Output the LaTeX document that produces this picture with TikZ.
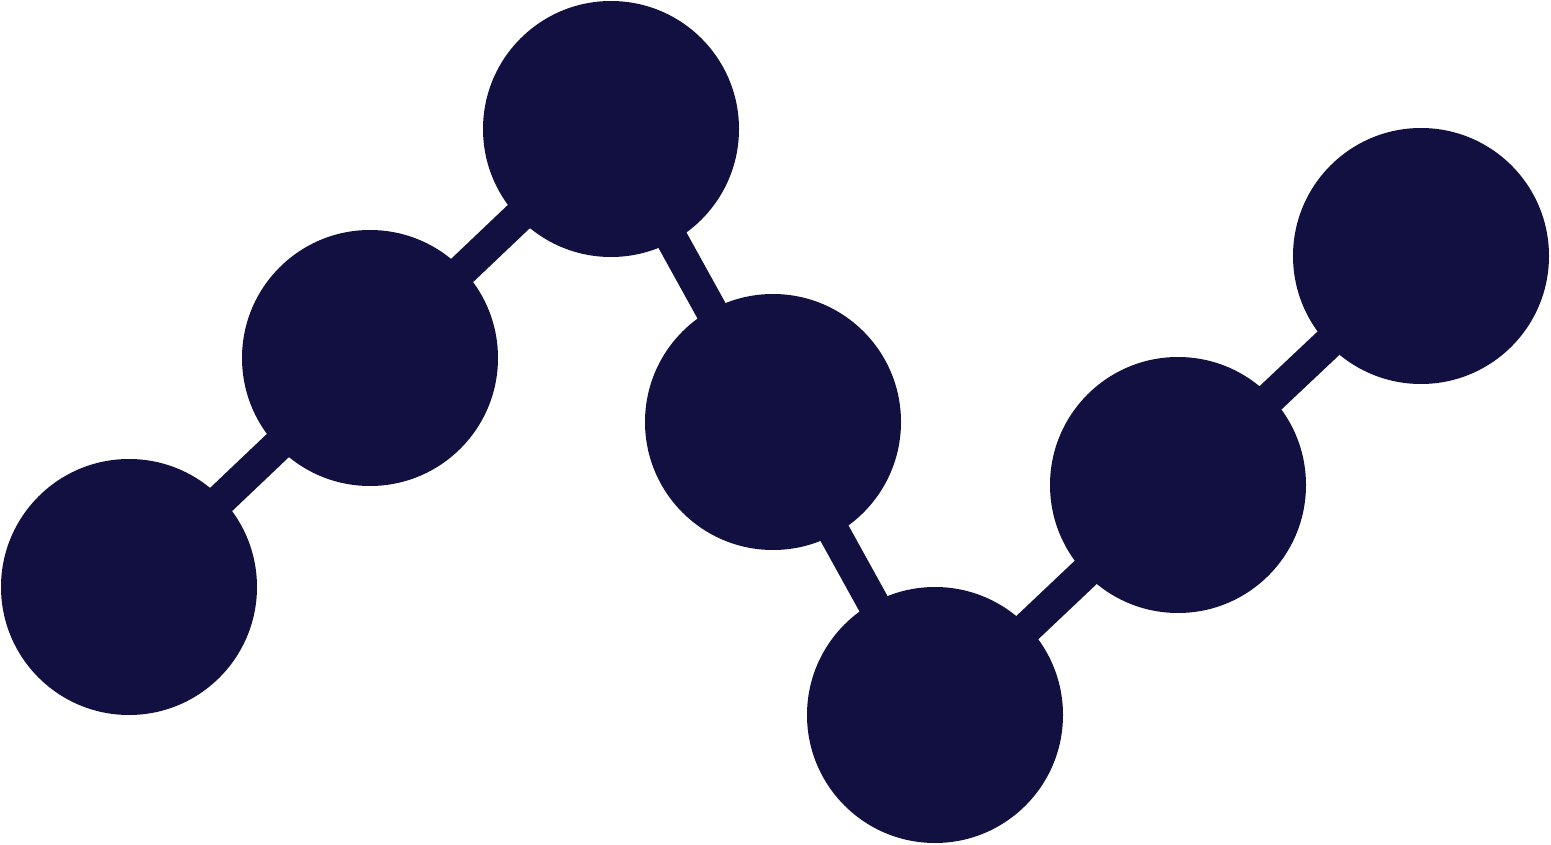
\documentclass[tikz,border=0pt]{standalone}
\definecolor{navy}{RGB}{18,16,64}
\begin{document}
\begin{tikzpicture}[x=1pt,y=-1pt,
  ball/.style={circle,fill=navy,inner sep=0pt,minimum size=256pt},
  link/.style={draw=navy,line width=32pt}]
\useasboundingbox (0,0) rectangle (1551,845);
\coordinate (c1) at (129,587);
\coordinate (c2) at (370,358);
\coordinate (c3) at (611,129);
\coordinate (c4) at (773,422);
\coordinate (c5) at (935,715);
\coordinate (c6) at (1178,485);
\coordinate (c7) at (1421,256);
\draw[link] (c1) -- (c2) -- (c3) -- (c4) -- (c5) -- (c6) -- (c7);
\node[ball] (n1) at (c1) {};
\node[ball] (n2) at (c2) {};
\node[ball] (n3) at (c3) {};
\node[ball] (n4) at (c4) {};
\node[ball] (n5) at (c5) {};
\node[ball] (n6) at (c6) {};
\node[ball] (n7) at (c7) {};
\end{tikzpicture}
\end{document}
